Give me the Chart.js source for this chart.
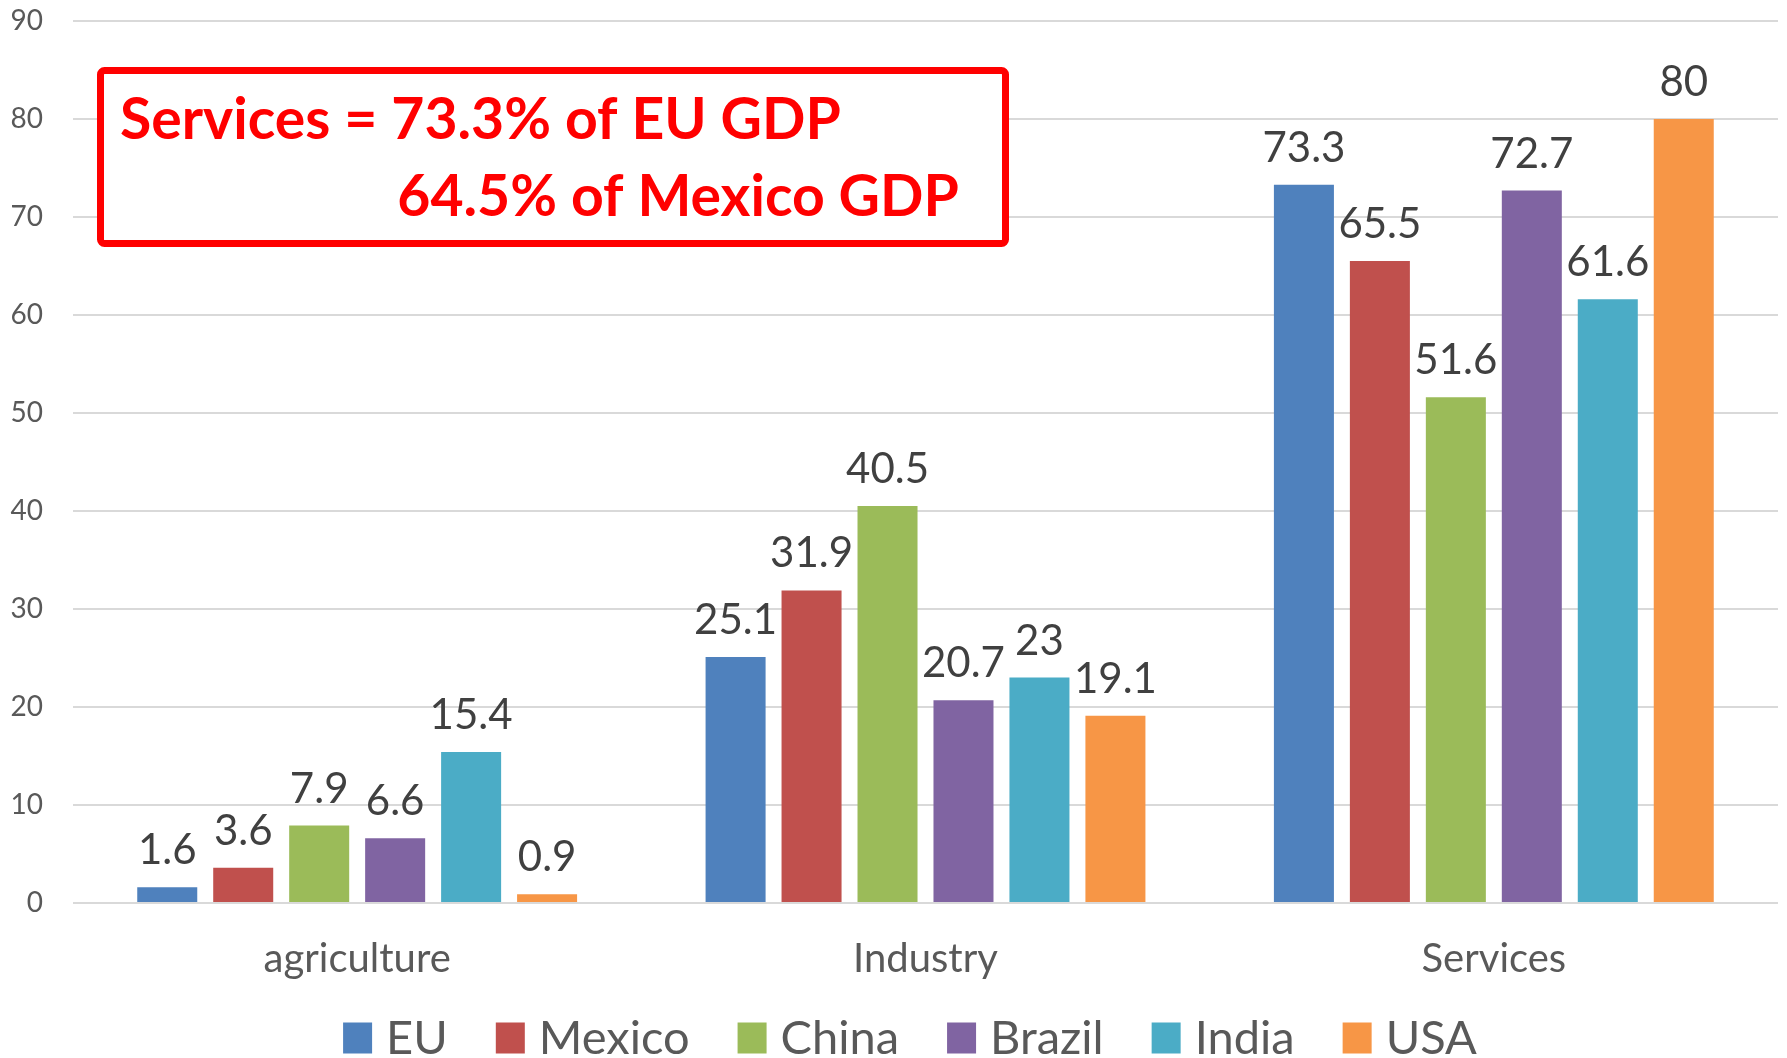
<!DOCTYPE html>
<html>
<head>
<meta charset="utf-8">
<script src="https://cdn.jsdelivr.net/npm/chart.js@4.4.1/dist/chart.umd.min.js"></script>
<style>
  html, body { margin: 0; padding: 0; background: #fff; }
  canvas { display: block; }
</style>
</head>
<body>
<canvas id="chart" width="1787" height="1058"></canvas>
<script>
  // GDP share by sector (%)
  const sectors = ["agriculture", "Industry", "Services"];
  const countries = ["EU", "Mexico", "China", "Brazil", "India", "USA"];
  const euShare = [1.6, 25.1, 73.3];
  const mexicoShare = [3.6, 31.9, 65.5];
  const chinaShare = [7.9, 40.5, 51.6];
  const brazilShare = [6.6, 20.7, 72.7];
  const indiaShare = [15.4, 23, 61.6];
  const usaShare = [0.9, 19.1, 80];
  const yMin = 0;
  const yMax = 90;
  const yStep = 10;
  const noteLines = ["Services = 73.3% of EU GDP", "64.5% of Mexico GDP"];

  const seriesValues = [euShare, mexicoShare, chinaShare, brazilShare, indiaShare, usaShare];
  const seriesColors = ["#4f81bd", "#c0504d", "#9bbb59", "#8064a2", "#4bacc6", "#f79646"];
  const textGrey = "#595959";
  const FONT = "Lato, 'Open Sans', sans-serif";

  const valueLabels = {
    id: "valueLabels",
    afterDatasetsDraw(chart) {
      const ctx = chart.ctx;
      ctx.save();
      ctx.font = `42px ${FONT}`;
      ctx.fillStyle = "#404040";
      ctx.textAlign = "center";
      ctx.textBaseline = "alphabetic";
      chart.data.datasets.forEach((ds, i) => {
        chart.getDatasetMeta(i).data.forEach((bar, j) => {
          ctx.fillText(String(ds.data[j]), bar.x, bar.y - 23);
        });
      });
      ctx.restore();
    },
  };

  // legend row under the axis, drawn from the dataset labels/colours
  const bottomLegend = {
    id: "bottomLegend",
    afterDraw(chart) {
      const ctx = chart.ctx;
      const box = { w: 29, h: 31, gap: 14, after: 48 };
      const cy = 1038;
      ctx.save();
      ctx.font = `47px ${FONT}`;
      const items = chart.data.datasets.map((ds) => ({
        text: ds.label,
        color: ds.backgroundColor,
        w: ctx.measureText(ds.label).width,
      }));
      const total =
        items.reduce((s, it) => s + box.w + box.gap + it.w, 0) + box.after * (items.length - 1);
      let x = 910 - total / 2;
      ctx.textAlign = "left";
      ctx.textBaseline = "middle";
      items.forEach((it) => {
        ctx.fillStyle = it.color;
        ctx.fillRect(x, cy - box.h / 2, box.w, box.h);
        x += box.w + box.gap;
        ctx.fillStyle = textGrey;
        ctx.fillText(it.text, x, cy + 1);
        x += it.w + box.after;
      });
      ctx.restore();
    },
  };

  const noteBox = {
    id: "noteBox",
    afterDraw(chart) {
      const ctx = chart.ctx;
      ctx.save();
      ctx.beginPath();
      ctx.roundRect(100.5, 70.5, 905, 173, 4);
      ctx.fillStyle = "#fff";
      ctx.fill();
      ctx.lineWidth = 7;
      ctx.strokeStyle = "#ff0000";
      ctx.stroke();

      // fit the first line to the width it has in the original
      let size = 58;
      ctx.font = `bold ${size}px ${FONT}`;
      size = (size * 721) / ctx.measureText(noteLines[0]).width;
      ctx.font = `bold ${size}px ${FONT}`;
      ctx.fillStyle = "#ff0000";
      ctx.textAlign = "left";
      ctx.textBaseline = "alphabetic";
      ctx.fillText(noteLines[0], 120, 139);
      const indent = ctx.measureText(noteLines[0].split("=")[0] + "= ").width;
      ctx.fillText(noteLines[1], 126 + indent, 216);
      ctx.restore();
    },
  };

  new Chart(document.getElementById("chart"), {
    type: "bar",
    data: {
      labels: sectors,
      datasets: countries.map((name, i) => ({
        label: name,
        data: seriesValues[i],
        backgroundColor: seriesColors[i],
        borderWidth: 0,
        categoryPercentage: 0.802,
        barPercentage: 0.79,
      })),
    },
    options: {
      responsive: false,
      animation: false,
      layout: { padding: { top: 21, left: 0, right: 9, bottom: 0 } },
      plugins: {
        tooltip: { enabled: false },
        legend: { display: false },
      },
      scales: {
        x: {
          grid: { display: false, drawTicks: false },
          border: { display: false },
          ticks: { color: textGrey, padding: 32, font: { family: FONT, size: 40 } },
          afterFit(scale) {
            scale.height = 155;
          },
        },
        y: {
          min: yMin,
          max: yMax,
          grid: { color: "#d9d9d9", lineWidth: 2, drawTicks: false },
          border: { display: false },
          ticks: { stepSize: yStep, color: textGrey, padding: 30, font: { family: FONT, size: 28 } },
          afterFit(scale) {
            scale.width = 73;
            // the tick padding should not push the plot down
            scale.paddingTop = 0;
            scale.paddingBottom = 0;
          },
        },
      },
    },
    plugins: [valueLabels, bottomLegend, noteBox],
  });
</script>
</body>
</html>
